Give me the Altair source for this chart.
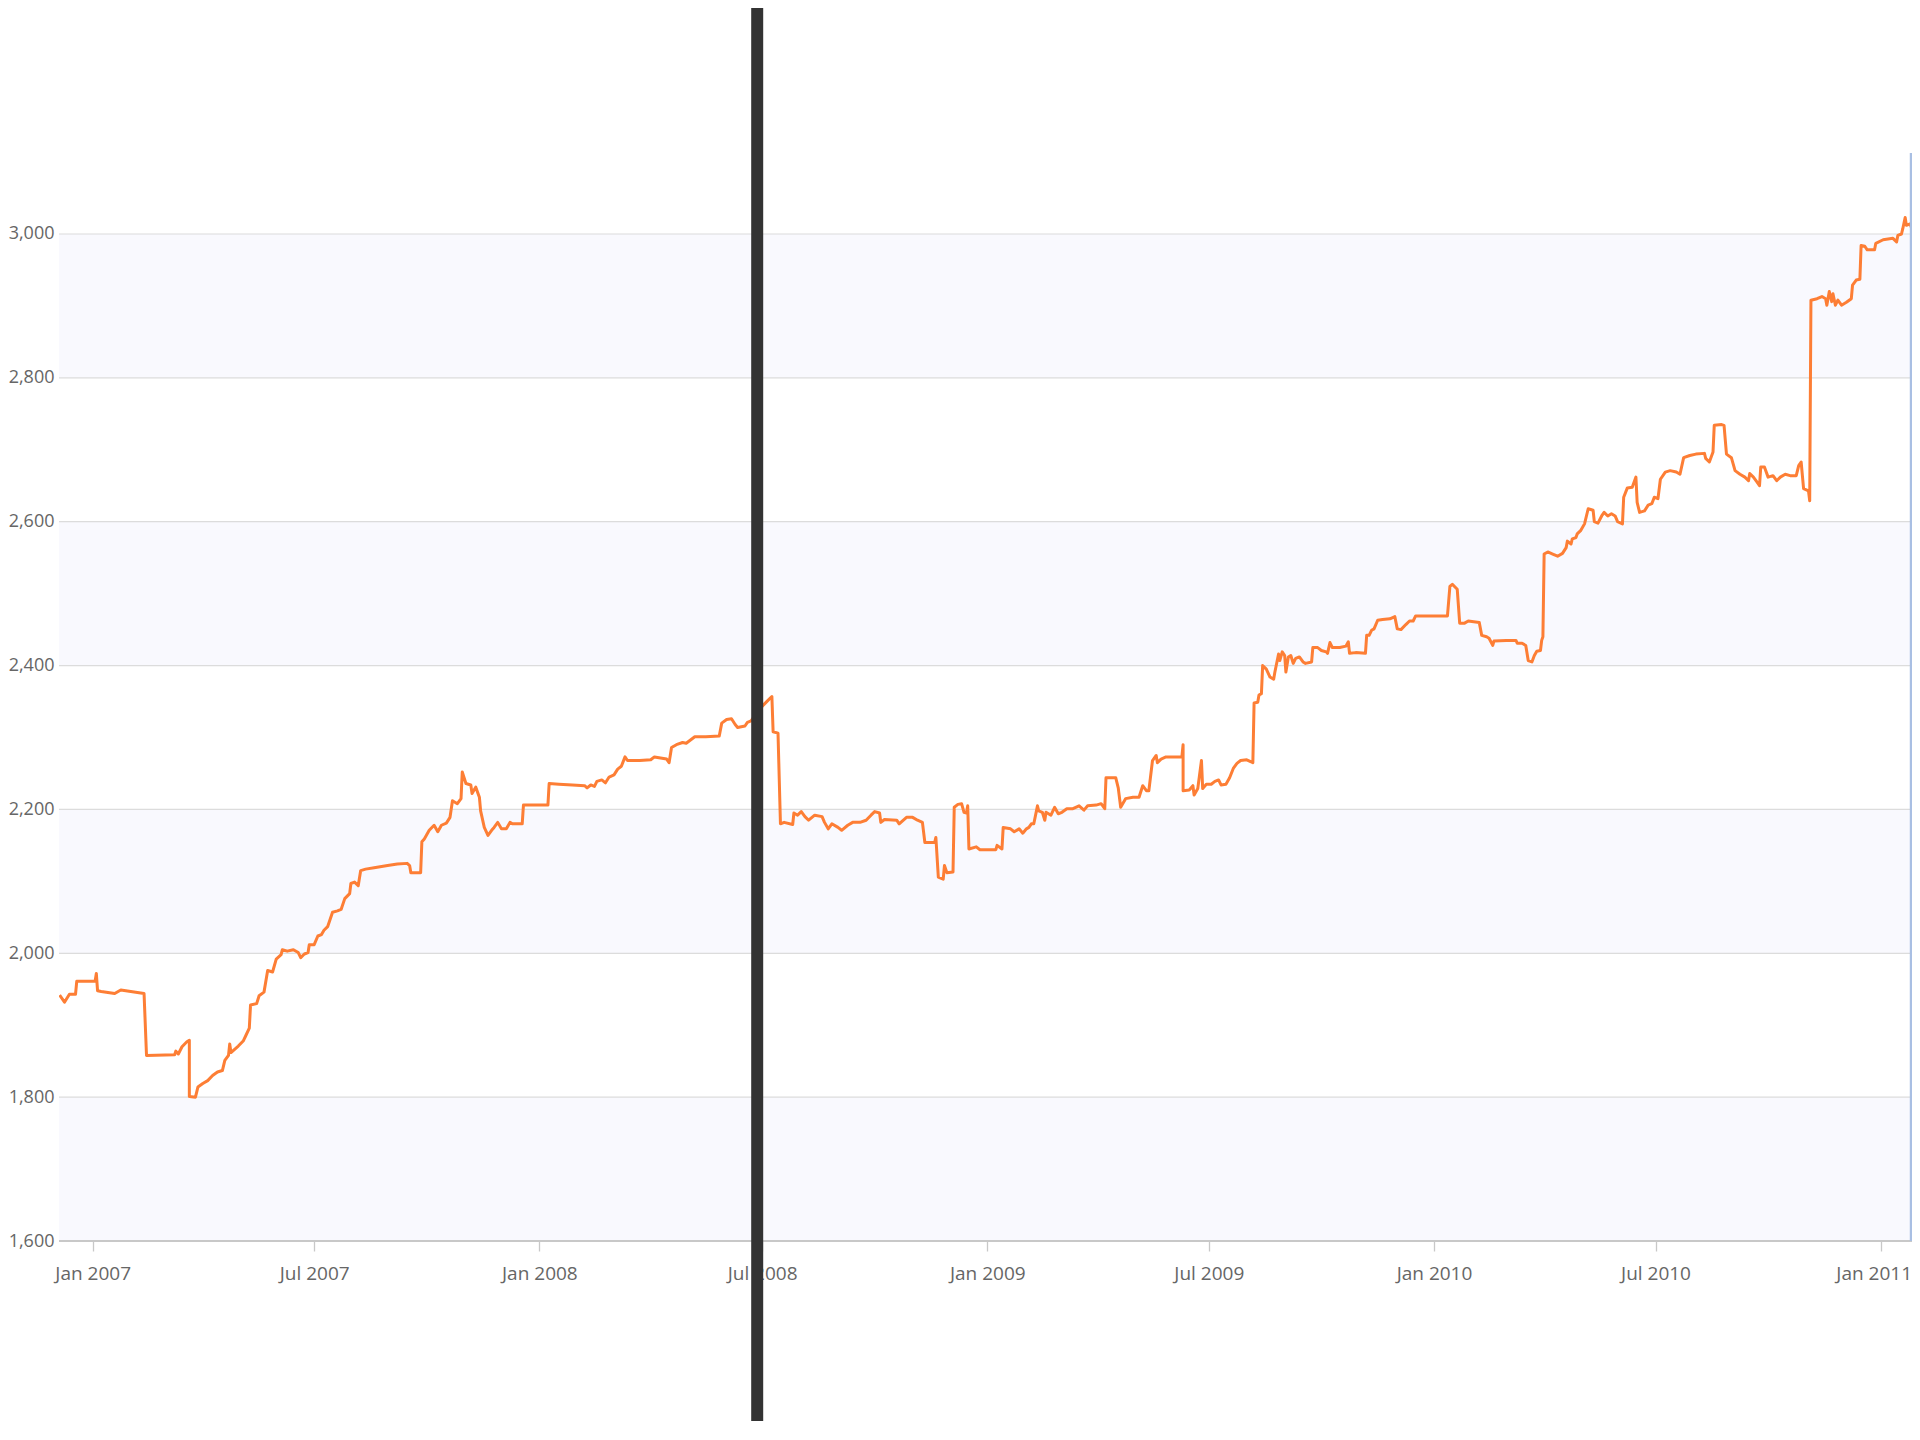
import altair as alt
import pandas as pd

# ---- series ----
dates = [
    "2006-12-05", "2006-12-09", "2006-12-13", "2006-12-18", "2006-12-19", "2007-01-03", "2007-01-04", "2007-01-05",
    "2007-01-08", "2007-01-19", "2007-01-24", "2007-02-12", "2007-02-14", "2007-03-09", "2007-03-10", "2007-03-12",
    "2007-03-15", "2007-03-19", "2007-03-21", "2007-03-21", "2007-03-26", "2007-03-28", "2007-04-01", "2007-04-05",
    "2007-04-09", "2007-04-13", "2007-04-17", "2007-04-19", "2007-04-22", "2007-04-23", "2007-04-24", "2007-04-30",
    "2007-05-04", "2007-05-06", "2007-05-09", "2007-05-10", "2007-05-15", "2007-05-17", "2007-05-21", "2007-05-24",
    "2007-05-28", "2007-05-31", "2007-06-04", "2007-06-05", "2007-06-09", "2007-06-14", "2007-06-18", "2007-06-20",
    "2007-06-23", "2007-06-26", "2007-06-27", "2007-07-01", "2007-07-04", "2007-07-07", "2007-07-09", "2007-07-12",
    "2007-07-16", "2007-07-20", "2007-07-23", "2007-07-26", "2007-07-30", "2007-07-31", "2007-08-03", "2007-08-06",
    "2007-08-08", "2007-08-12", "2007-08-19", "2007-08-30", "2007-09-07", "2007-09-15", "2007-09-17", "2007-09-18",
    "2007-09-26", "2007-09-27", "2007-09-29", "2007-10-03", "2007-10-07", "2007-10-10", "2007-10-13", "2007-10-17",
    "2007-10-20", "2007-10-22", "2007-10-26", "2007-10-29", "2007-10-30", "2007-11-02", "2007-11-06", "2007-11-07",
    "2007-11-10", "2007-11-13", "2007-11-14", "2007-11-17", "2007-11-20", "2007-11-23", "2007-11-25", "2007-11-28",
    "2007-12-01", "2007-12-05", "2007-12-08", "2007-12-10", "2007-12-18", "2007-12-19", "2008-01-08", "2008-01-09",
    "2008-01-17", "2008-01-28", "2008-02-07", "2008-02-09", "2008-02-12", "2008-02-15", "2008-02-17", "2008-02-21",
    "2008-02-24", "2008-02-27", "2008-03-02", "2008-03-05", "2008-03-08", "2008-03-11", "2008-03-13", "2008-03-23",
    "2008-04-01", "2008-04-04", "2008-04-14", "2008-04-16", "2008-04-18", "2008-04-22", "2008-04-27", "2008-04-30",
    "2008-05-07", "2008-05-16", "2008-05-27", "2008-05-29", "2008-06-02", "2008-06-06", "2008-06-09", "2008-06-11",
    "2008-06-17", "2008-06-19", "2008-06-22", "2008-06-27", "2008-07-02", "2008-07-06", "2008-07-09", "2008-07-10",
    "2008-07-14", "2008-07-16", "2008-07-19", "2008-07-26", "2008-07-27", "2008-07-30", "2008-08-02", "2008-08-05",
    "2008-08-08", "2008-08-13", "2008-08-19", "2008-08-21", "2008-08-24", "2008-08-27", "2008-09-01", "2008-09-04",
    "2008-09-09", "2008-09-13", "2008-09-19", "2008-09-24", "2008-09-28", "2008-10-01", "2008-10-05", "2008-10-06",
    "2008-10-09", "2008-10-19", "2008-10-21", "2008-10-27", "2008-11-01", "2008-11-05", "2008-11-09", "2008-11-11",
    "2008-11-19", "2008-11-20", "2008-11-22", "2008-11-26", "2008-11-27", "2008-11-29", "2008-12-04", "2008-12-05",
    "2008-12-08", "2008-12-11", "2008-12-13", "2008-12-15", "2008-12-16", "2008-12-17", "2008-12-23", "2008-12-26",
    "2009-01-08", "2009-01-09", "2009-01-13", "2009-01-14", "2009-01-20", "2009-01-23", "2009-01-27", "2009-01-30",
    "2009-02-02", "2009-02-04", "2009-02-06", "2009-02-08", "2009-02-11", "2009-02-12", "2009-02-15", "2009-02-17",
    "2009-02-18", "2009-02-22", "2009-02-25", "2009-02-28", "2009-03-03", "2009-03-07", "2009-03-12", "2009-03-17",
    "2009-03-21", "2009-03-24", "2009-03-31", "2009-04-04", "2009-04-07", "2009-04-08", "2009-04-16", "2009-04-18",
    "2009-04-20", "2009-04-24", "2009-04-30", "2009-05-05", "2009-05-08", "2009-05-11", "2009-05-13", "2009-05-16",
    "2009-05-19", "2009-05-20", "2009-05-23", "2009-05-27", "2009-06-09", "2009-06-10", "2009-06-10", "2009-06-15",
    "2009-06-18", "2009-06-19", "2009-06-22", "2009-06-25", "2009-06-26", "2009-06-29", "2009-07-03", "2009-07-06",
    "2009-07-09", "2009-07-11", "2009-07-15", "2009-07-18", "2009-07-21", "2009-07-24", "2009-07-27", "2009-08-01",
    "2009-08-06", "2009-08-07", "2009-08-10", "2009-08-11", "2009-08-13", "2009-08-14", "2009-08-17", "2009-08-20",
    "2009-08-23", "2009-08-24", "2009-08-27", "2009-08-28", "2009-08-30", "2009-09-01", "2009-09-02", "2009-09-04",
    "2009-09-06", "2009-09-08", "2009-09-10", "2009-09-13", "2009-09-16", "2009-09-18", "2009-09-23", "2009-09-24",
    "2009-09-28", "2009-10-01", "2009-10-05", "2009-10-06", "2009-10-08", "2009-10-10", "2009-10-16", "2009-10-21",
    "2009-10-23", "2009-10-24", "2009-10-29", "2009-11-06", "2009-11-07", "2009-11-09", "2009-11-11", "2009-11-13",
    "2009-11-16", "2009-11-20", "2009-11-26", "2009-11-30", "2009-12-02", "2009-12-05", "2009-12-09", "2009-12-12",
    "2009-12-15", "2009-12-17", "2009-12-28", "2010-01-12", "2010-01-14", "2010-01-16", "2010-01-20", "2010-01-22",
    "2010-01-26", "2010-01-29", "2010-02-07", "2010-02-09", "2010-02-13", "2010-02-15", "2010-02-18", "2010-02-19",
    "2010-03-01", "2010-03-09", "2010-03-10", "2010-03-14", "2010-03-17", "2010-03-19", "2010-03-22", "2010-03-24",
    "2010-03-26", "2010-03-29", "2010-03-30", "2010-03-31", "2010-04-01", "2010-04-04", "2010-04-08", "2010-04-12",
    "2010-04-16", "2010-04-19", "2010-04-20", "2010-04-23", "2010-04-24", "2010-04-27", "2010-04-28", "2010-05-01",
    "2010-05-04", "2010-05-07", "2010-05-11", "2010-05-12", "2010-05-15", "2010-05-18", "2010-05-20", "2010-05-23",
    "2010-05-26", "2010-05-29", "2010-05-31", "2010-06-04", "2010-06-05", "2010-06-08", "2010-06-12", "2010-06-15",
    "2010-06-16", "2010-06-18", "2010-06-22", "2010-06-25", "2010-06-28", "2010-06-30", "2010-07-03", "2010-07-05",
    "2010-07-09", "2010-07-13", "2010-07-18", "2010-07-21", "2010-07-24", "2010-07-29", "2010-08-03", "2010-08-10",
    "2010-08-11", "2010-08-14", "2010-08-17", "2010-08-18", "2010-08-24", "2010-08-26", "2010-08-28", "2010-09-01",
    "2010-09-04", "2010-09-08", "2010-09-12", "2010-09-15", "2010-09-16", "2010-09-19", "2010-09-22", "2010-09-24",
    "2010-09-25", "2010-09-28", "2010-10-01", "2010-10-05", "2010-10-08", "2010-10-11", "2010-10-15", "2010-10-19",
    "2010-10-24", "2010-10-26", "2010-10-28", "2010-10-30", "2010-11-03", "2010-11-04", "2010-11-05", "2010-11-10",
    "2010-11-14", "2010-11-17", "2010-11-18", "2010-11-20", "2010-11-22", "2010-11-23", "2010-11-25", "2010-11-27",
    "2010-11-30", "2010-12-04", "2010-12-08", "2010-12-09", "2010-12-12", "2010-12-15", "2010-12-16", "2010-12-19",
    "2010-12-21", "2010-12-27", "2010-12-28", "2011-01-03", "2011-01-11", "2011-01-14", "2011-01-15", "2011-01-18",
    "2011-01-19", "2011-01-21", "2011-01-22", "2011-01-25", "2011-01-27", "2011-01-30", "2011-01-31", "2011-02-02",
]
values = [
    1942, 1932, 1943, 1943, 1961, 1961, 1972, 1948,
    1947, 1944, 1949, 1944, 1858, 1859, 1864, 1860,
    1870, 1877, 1879, 1801, 1800, 1814, 1819, 1823,
    1830, 1835, 1837, 1851, 1858, 1874, 1862, 1871,
    1878, 1885, 1896, 1928, 1930, 1941, 1946, 1976,
    1974, 1992, 1998, 2005, 2003, 2005, 2001, 1994,
    1999, 2001, 2012, 2012, 2024, 2026, 2032, 2037,
    2057, 2059, 2061, 2076, 2083, 2097, 2099, 2094,
    2115, 2117, 2119, 2122, 2124, 2125, 2122, 2112,
    2112, 2155, 2159, 2171, 2178, 2169, 2178, 2181,
    2189, 2212, 2208, 2215, 2252, 2236, 2234, 2222,
    2231, 2217, 2198, 2175, 2164, 2171, 2175, 2182,
    2173, 2173, 2182, 2180, 2180, 2206, 2206, 2236,
    2235, 2234, 2233, 2230, 2234, 2232, 2239, 2241,
    2237, 2245, 2248, 2256, 2260, 2273, 2268, 2268,
    2269, 2273, 2270, 2265, 2286, 2290, 2293, 2292,
    2301, 2301, 2302, 2320, 2325, 2326, 2318, 2314,
    2316, 2321, 2323, 2335, 2345, 2352, 2357, 2308,
    2306, 2180, 2182, 2179, 2195, 2192, 2197, 2190,
    2185, 2192, 2190, 2182, 2173, 2180, 2175, 2171,
    2178, 2182, 2182, 2185, 2192, 2197, 2195, 2182,
    2186, 2185, 2180, 2189, 2189, 2185, 2182, 2154,
    2154, 2161, 2106, 2103, 2122, 2112, 2113, 2203,
    2207, 2208, 2196, 2195, 2205, 2145, 2148, 2144,
    2144, 2150, 2145, 2175, 2173, 2169, 2173, 2167,
    2173, 2175, 2180, 2180, 2205, 2198, 2196, 2185,
    2196, 2192, 2203, 2194, 2196, 2201, 2201, 2205,
    2199, 2205, 2206, 2208, 2201, 2244, 2244, 2230,
    2203, 2215, 2217, 2217, 2233, 2226, 2226, 2268,
    2275, 2265, 2270, 2273, 2273, 2290, 2226, 2227,
    2233, 2220, 2229, 2268, 2229, 2235, 2235, 2239,
    2241, 2234, 2235, 2244, 2257, 2264, 2268, 2269,
    2265, 2348, 2349, 2359, 2361, 2400, 2395, 2384,
    2381, 2391, 2416, 2407, 2419, 2414, 2391, 2412,
    2414, 2403, 2410, 2412, 2405, 2403, 2405, 2425,
    2425, 2421, 2419, 2417, 2432, 2425, 2425, 2427,
    2433, 2417, 2418, 2417, 2442, 2442, 2449, 2451,
    2463, 2464, 2465, 2468, 2451, 2450, 2457, 2462,
    2462, 2469, 2469, 2469, 2510, 2513, 2506, 2459,
    2459, 2462, 2460, 2442, 2440, 2438, 2428, 2434,
    2435, 2435, 2431, 2431, 2428, 2407, 2405, 2414,
    2420, 2421, 2435, 2440, 2555, 2558, 2555, 2552,
    2556, 2564, 2573, 2569, 2576, 2578, 2583, 2588,
    2597, 2618, 2616, 2600, 2598, 2608, 2613, 2608,
    2611, 2608, 2600, 2597, 2634, 2647, 2648, 2662,
    2627, 2613, 2615, 2623, 2625, 2634, 2632, 2659,
    2669, 2671, 2669, 2666, 2689, 2692, 2694, 2695,
    2688, 2683, 2697, 2734, 2735, 2734, 2694, 2689,
    2671, 2666, 2662, 2657, 2667, 2662, 2655, 2650,
    2676, 2676, 2662, 2664, 2657, 2662, 2666, 2664,
    2664, 2678, 2683, 2646, 2643, 2629, 2908, 2910,
    2913, 2910, 2901, 2920, 2906, 2917, 2901, 2908,
    2901, 2905, 2910, 2929, 2936, 2937, 2984, 2983,
    2978, 2978, 2987, 2992, 2994, 2989, 2998, 3000,
    3007, 3023, 3012, 3014, 3005, 3000, 2912, 2905,
]

y_ticks = [1600, 1800, 2000, 2200, 2400, 2600, 2800, 3000]
grid_values = [1800, 2000, 2200, 2400, 2600, 2800, 3000]
band_lo = [1600, 2000, 2400, 2800]
band_hi = [1800, 2200, 2600, 3000]
x_tick_dates = [(2007, 1), (2007, 7), (2008, 1), (2008, 7), (2009, 1),
                (2009, 7), (2010, 1), (2010, 7), (2011, 1)]
marker_date = ["2011-01-26"]     # thin blue vertical line at the right edge
divider_date = ["2008-06-27"]    # dark vertical bar

W, H = 1853, 1088
FONT = "Open Sans"
LABEL = "#666666"

series = pd.DataFrame({"date": dates, "value": values, "order": list(range(len(dates)))})
bands = pd.DataFrame({"lo": band_lo, "hi": band_hi})
grid = pd.DataFrame({"v": grid_values})
base = pd.DataFrame({"v": [y_ticks[0]]})
marker = pd.DataFrame({"date": marker_date})
divider = pd.DataFrame({"date": divider_date})

xscale = alt.Scale(type="utc", domain=[
    alt.DateTime(year=2006, month=12, date=4, hours=12, utc=True),
    alt.DateTime(year=2011, month=1, date=26, hours=14, utc=True)])
yscale = alt.Scale(domain=[1600, 3112.6], nice=False, zero=False)

xaxis = alt.Axis(
    values=[alt.DateTime(year=y, month=m, date=1, utc=True) for y, m in x_tick_dates],
    format="%b %Y", title=None, grid=False, domain=False,
    ticks=True, tickSize=10, tickColor="#c8c8c8", tickWidth=1.3,
    labelFont=FONT, labelFontSize=19, labelColor=LABEL, labelPadding=13,
    labelOffset={"condition": {"test": "datum.value >= utc(2010, 11, 1)", "value": -7}, "value": 0},
    labelFlush=False, labelOverlap=False, zindex=0)
yaxis = alt.Axis(
    values=y_ticks, format=",d", title=None, grid=False, domain=False, ticks=False,
    labelFont=FONT, labelFontSize=18, labelColor=LABEL, labelPadding=5,
    labelBaseline="middle", zindex=0)

X = alt.X("date:T", scale=xscale, axis=xaxis)

band_layer = alt.Chart(bands).mark_rect(color="#f9f9fe").encode(
    y=alt.Y("lo:Q", scale=yscale, axis=yaxis), y2="hi:Q",
    x=alt.value(0), x2=alt.value(W))

grid_layer = alt.Chart(grid).mark_rule(color="#dcdcdc", strokeWidth=1.2).encode(
    y=alt.Y("v:Q", scale=yscale, axis=yaxis), x=alt.value(0), x2=alt.value(W))

base_layer = alt.Chart(base).mark_rule(color="#c8c8c8", strokeWidth=1.8).encode(
    y=alt.Y("v:Q", scale=yscale, axis=yaxis), x=alt.value(0), x2=alt.value(W))

line_layer = alt.Chart(series).mark_line(
    color="#fd7e35", strokeWidth=3, clip=True, strokeJoin="round").encode(
    x=X, y=alt.Y("value:Q", scale=yscale, axis=yaxis), order="order:Q")

marker_layer = alt.Chart(marker).mark_rule(color="#a9bfe3", strokeWidth=3).encode(
    x=X, y=alt.value(0), y2=alt.value(H))

divider_layer = alt.Chart(divider).mark_rule(color="#333333", strokeWidth=12, clip=False).encode(
    x=X, y=alt.value(-170), y2=alt.value(H + 400))

chart = alt.layer(
    band_layer, grid_layer, base_layer, line_layer, marker_layer, divider_layer
).properties(
    width=W, height=H,
    autosize=alt.AutoSizeParams(type="none"),
    padding={"left": 51, "top": 145, "right": 0, "bottom": 180},
    background="white",
).configure_view(stroke=None)

chart.save("out.html", embed_options={"renderer": "svg", "actions": False})
